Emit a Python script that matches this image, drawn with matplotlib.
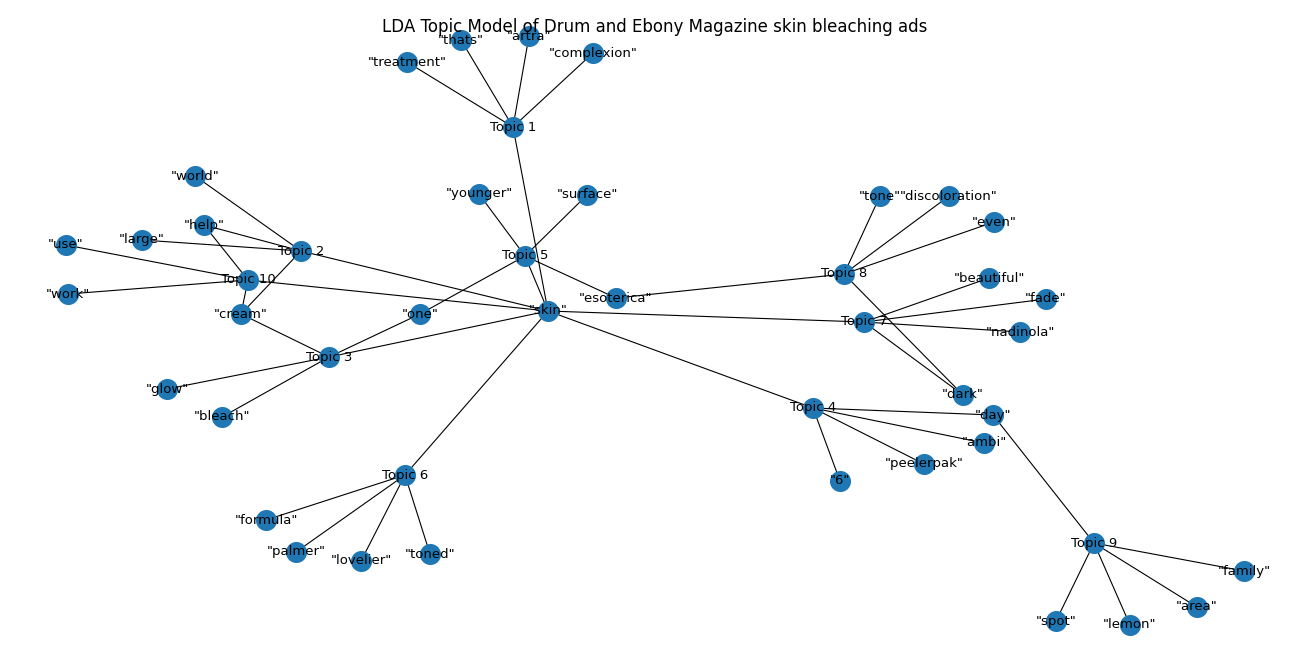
import matplotlib
matplotlib.use("Agg")
import matplotlib.pyplot as plt

# node layout (as drawn), pixel-like coordinates
nodes = ["Topic 1", '"thats"', '"artra"', '"complexion"', '"treatment"', '"skin"',
         "Topic 5", '"younger"', '"surface"', '"esoterica"', '"one"',
         "Topic 2", '"world"', '"help"', '"large"', '"use"', "Topic 10", '"work"', '"cream"',
         "Topic 3", '"glow"', '"bleach"',
         "Topic 6", '"formula"', '"palmer"', '"lovelier"', '"toned"',
         "Topic 8", '"tone"', '"discoloration"', '"even"',
         "Topic 7", '"beautiful"', '"fade"', '"nadinola"', '"dark"', '"day"',
         "Topic 4", '"ambi"', '"peelerpak"', '"6"',
         "Topic 9", '"family"', '"area"', '"lemon"', '"spot"']
xs = [513, 461, 529, 593, 407, 548,
      525, 479, 587, 616, 420,
      301, 195, 204, 142, 66, 248, 68, 241,
      329, 167, 222,
      405, 266, 296, 361, 430,
      844, 880, 949, 994,
      864, 989, 1046, 1020, 963, 993,
      813, 984, 924, 840,
      1094, 1244, 1197, 1130, 1056]
ys = [127, 40, 36, 53, 62, 311,
      256, 194, 195, 298, 314,
      251, 176, 225, 240, 245, 280, 294, 314,
      357, 389, 417,
      475, 520, 552, 561, 554,
      274, 196, 196, 222,
      322, 278, 299, 332, 395, 415,
      408, 443, 464, 481,
      543, 571, 607, 625, 621]

topics = {
    "Topic 1": ['"thats"', '"artra"', '"complexion"', '"treatment"', '"skin"'],
    "Topic 5": ['"younger"', '"surface"', '"esoterica"', '"one"', '"skin"'],
    "Topic 2": ['"world"', '"large"', '"help"', '"cream"', '"skin"'],
    "Topic 10": ['"use"', '"work"', '"help"', '"cream"', '"skin"'],
    "Topic 3": ['"one"', '"cream"', '"glow"', '"bleach"', '"skin"'],
    "Topic 6": ['"formula"', '"palmer"', '"lovelier"', '"toned"', '"skin"'],
    "Topic 8": ['"tone"', '"discoloration"', '"even"', '"esoterica"', '"dark"'],
    "Topic 7": ['"beautiful"', '"fade"', '"nadinola"', '"skin"', '"dark"'],
    "Topic 4": ['"day"', '"ambi"', '"peelerpak"', '"6"', '"skin"'],
    "Topic 9": ['"family"', '"area"', '"lemon"', '"spot"', '"day"'],
}

pos = {n: (x, y) for n, x, y in zip(nodes, xs, ys)}

fig = plt.figure(figsize=(13.1, 6.62), dpi=100)
ax = fig.add_axes([0, 0, 1, 1])
ax.set_xlim(0, 1310)
ax.set_ylim(662, 0)
ax.axis("off")

for t, words in topics.items():
    for w in words:
        ax.plot([pos[t][0], pos[w][0]], [pos[t][1], pos[w][1]], color="black", lw=0.8, zorder=1)

ax.scatter(xs, ys, s=200, color="#1f78b4", zorder=2)
for n in nodes:
    ax.text(pos[n][0], pos[n][1], n, ha="center", va="center", fontsize=9.5, zorder=3)

ax.text(655, 27, "LDA Topic Model of Drum and Ebony Magazine skin bleaching ads",
        ha="center", va="center", fontsize=12)

fig.savefig("out.png", dpi=100)
